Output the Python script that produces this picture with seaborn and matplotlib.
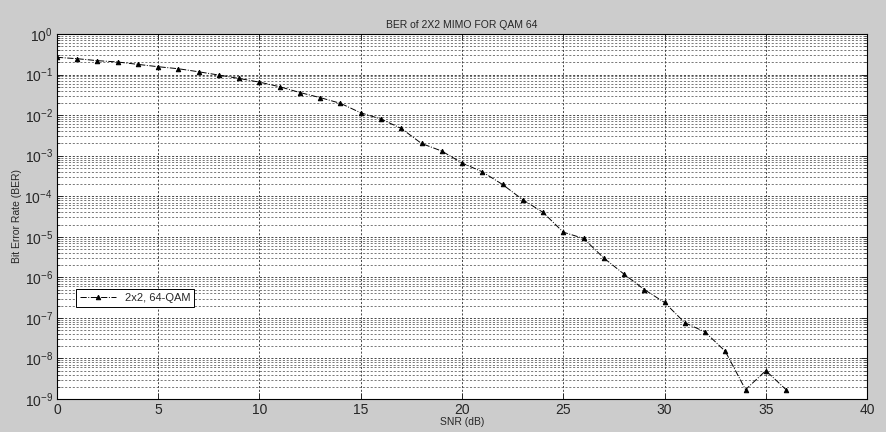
import numpy as np
import pandas as pd
import matplotlib
matplotlib.use("Agg")
import matplotlib.pyplot as plt
import seaborn as sns
from matplotlib.ticker import LogLocator, NullFormatter

# BER curve
snr_db = list(range(0, 37))
ber = [0.266, 0.246, 0.22, 0.204, 0.178, 0.156, 0.139, 0.117, 0.097, 0.080,
       0.065, 0.050, 0.036, 0.027, 0.0195, 0.0114, 0.0080, 0.0047, 0.0020, 0.0013,
       6.6e-4, 4.0e-4, 1.95e-4, 8.2e-5, 4.0e-5, 1.3e-5, 9.1e-6, 3.0e-6, 1.2e-6, 5.0e-7,
       2.4e-7, 7.6e-8, 4.5e-8, 1.5e-8, 1.7e-9, 5.0e-9, 1.7e-9]
series_label = "2x2, 64-QAM"
x_ticks = [0, 5, 10, 15, 20, 25, 30, 35, 40]

sns.set_style("ticks")
plt.rcParams['font.family'] = ['Liberation Sans', 'DejaVu Sans']
plt.rcParams['mathtext.fontset'] = 'custom'
plt.rcParams['mathtext.rm'] = 'Liberation Sans'

df = pd.DataFrame({"SNR": snr_db, "BER": ber, "curve": series_label})

fig = plt.figure(figsize=(8.86, 4.32), dpi=100, facecolor='#cccccc')
ax = fig.add_axes([0.0643, 0.0764, 0.9143, 0.8449])
ax.set_facecolor('white')

sns.lineplot(data=df, x="SNR", y="BER", ax=ax, color='black', linestyle='-.',
             linewidth=0.7, marker='^', markersize=3.2, markeredgecolor='black',
             markerfacecolor='black', label=series_label)

ax.set_yscale('log')
ax.set_xlim(0, 40)
ax.set_ylim(1e-9, 1)
ax.set_xticks(x_ticks)
ax.yaxis.set_major_locator(LogLocator(base=10, numticks=20))
ax.yaxis.set_minor_locator(LogLocator(base=10, subs=np.arange(2, 10), numticks=100))
ax.yaxis.set_minor_formatter(NullFormatter())

grid_kw = dict(color='black', linestyle=(0, (3, 2.5)), linewidth=0.5)
ax.grid(which='major', axis='both', **grid_kw)
ax.grid(which='minor', axis='y', color='#444444', linestyle=(0, (3, 2.5)), linewidth=0.5)

ax.tick_params(which='both', direction='in', top=True, right=True, labelsize=10, pad=3)
ax.tick_params(which='major', length=4, width=0.7)
ax.tick_params(which='minor', length=2, width=0.5)
for sp in ax.spines.values():
    sp.set_color('black')
    sp.set_linewidth(0.8)

ax.set_title("BER of 2X2 MIMO FOR QAM 64", fontsize=7.5, pad=4)
ax.set_xlabel("SNR (dB)", fontsize=7.5, labelpad=0)
ax.set_ylabel("Bit Error Rate (BER)", fontsize=7.5, labelpad=2)

leg = ax.legend(loc='upper left', bbox_to_anchor=(0.024, 0.302), fontsize=8,
                frameon=True, fancybox=False, framealpha=1, edgecolor='black',
                handlelength=3.2, borderpad=0.35, borderaxespad=0)
leg.get_frame().set_linewidth(0.7)

fig.savefig("out.png", dpi=100, facecolor=fig.get_facecolor())
